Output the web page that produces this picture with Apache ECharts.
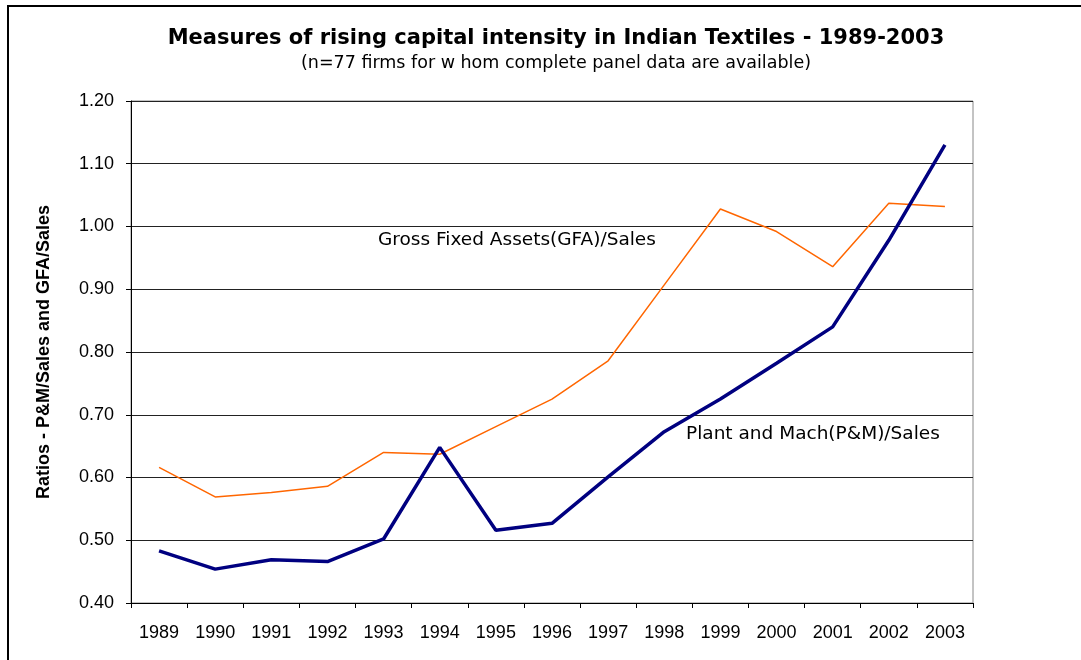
<!DOCTYPE html>
<html>
<head>
<meta charset="utf-8">
<script src="https://cdn.jsdelivr.net/npm/echarts@6/dist/echarts.min.js"></script>
<style>
  html, body { margin: 0; padding: 0; background: #fff; }
  #main { width: 1081px; height: 660px; }
</style>
</head>
<body>
<div id="main"></div>
<script>
// years on the x axis
var years = ['1989', '1990', '1991', '1992', '1993', '1994', '1995', '1996',
  '1997', '1998', '1999', '2000', '2001', '2002', '2003'];
// Plant and Machinery / Sales
var pmSales = [0.483, 0.454, 0.469, 0.466, 0.502, 0.648, 0.516, 0.527,
  0.601, 0.673, 0.725, 0.782, 0.840, 0.978, 1.130];
// Gross Fixed Assets / Sales
var gfaSales = [0.616, 0.569, 0.576, 0.586, 0.640, 0.637, 0.681, 0.725,
  0.786, 0.907, 1.028, 0.992, 0.936, 1.037, 1.032];

var font = 'Liberation Sans, Arial, sans-serif';
var wide = 'DejaVu Sans, sans-serif';

var chart = echarts.init(document.getElementById('main'));
var option = {
  animation: false,
  title: {
    text: 'Measures of rising capital intensity in Indian Textiles - 1989-2003',
    subtext: '(n=77 firms for w hom complete panel data are available)',
    left: 551,
    textAlign: 'center',
    top: 23,
    itemGap: 5,
    textStyle: { fontFamily: wide, fontSize: 21, fontWeight: 'bold', color: '#000' },
    subtextStyle: { fontFamily: wide, fontSize: 17.5, color: '#000' }
  },
  grid: {
    left: 131,
    right: 108,
    top: 101,
    bottom: 57,
    show: true,
    borderColor: '#888',
    borderWidth: 1
  },
  xAxis: {
    type: 'category',
    data: years,
    axisLine: { lineStyle: { color: '#000', width: 1 } },
    axisTick: { show: true, length: 5, lineStyle: { color: '#000' } },
    axisLabel: { fontFamily: font, fontSize: 18, color: '#000', margin: 21, interval: 0 }
  },
  yAxis: {
    type: 'value',
    min: 0.4,
    max: 1.2,
    interval: 0.1,
    name: 'Ratios - P&M/Sales and GFA/Sales',
    nameLocation: 'middle',
    nameGap: 78,
    nameTextStyle: { fontFamily: font, fontSize: 18, fontWeight: 'bold', color: '#000' },
    axisLine: { show: true, lineStyle: { color: '#000', width: 1 } },
    axisTick: { show: true, length: 5, lineStyle: { color: '#000' } },
    axisLabel: {
      fontFamily: font, fontSize: 18, color: '#000', margin: 17,
      formatter: function (v) { return v.toFixed(2); }
    },
    splitLine: { lineStyle: { color: '#222', width: 1 } }
  },
  series: [
    {
      name: 'GFA/Sales',
      type: 'line',
      data: gfaSales,
      symbol: 'none',
      lineStyle: { color: '#ff6600', width: 1.5 },
      z: 2
    },
    {
      name: 'P&M/Sales',
      type: 'line',
      data: pmSales,
      symbol: 'none',
      lineStyle: { color: '#000080', width: 3.5 },
      z: 3
    }
  ],
  graphic: [
    { type: 'line', shape: { x1: 7, y1: 6, x2: 1081, y2: 6 }, style: { stroke: '#000', lineWidth: 2 } },
    { type: 'line', shape: { x1: 8, y1: 6, x2: 8, y2: 660 }, style: { stroke: '#000', lineWidth: 2 } },
    {
      type: 'text', left: 378, top: 231,
      style: { text: 'Gross Fixed Assets(GFA)/Sales', fontFamily: wide, fontSize: 18.5, fill: '#000' }
    },
    {
      type: 'text', left: 686, top: 425,
      style: { text: 'Plant and Mach(P&M)/Sales', fontFamily: wide, fontSize: 18.5, fill: '#000' }
    }
  ]
};
chart.setOption(option);
</script>
</body>
</html>
